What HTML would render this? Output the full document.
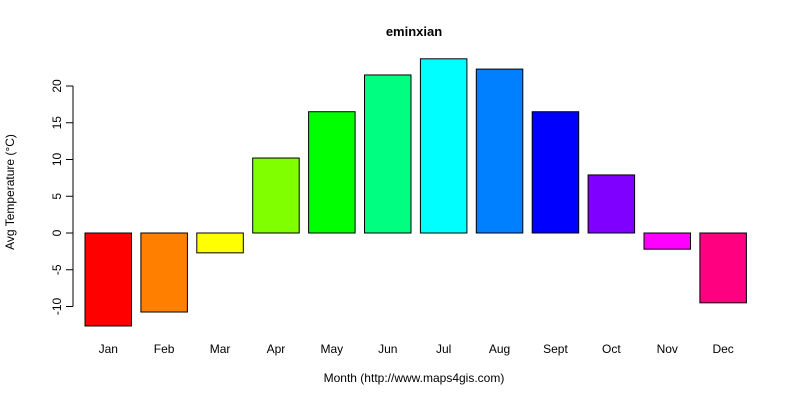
<!DOCTYPE html>
<html><head><meta charset="utf-8"><style>
body{margin:0;background:#fff;}
svg text{font-family:"Liberation Sans",Arial,sans-serif;}
</style></head><body>
<svg id="chart" width="800" height="400" xmlns="http://www.w3.org/2000/svg">
<rect width="800" height="400" fill="#fff"/>
<text x="414" y="36" text-anchor="middle" font-size="13" font-weight="bold">eminxian</text>
<text x="414" y="382" text-anchor="middle" font-size="12">Month (http://www.maps4gis.com)</text>
<text transform="translate(14,192) rotate(-90)" text-anchor="middle" font-size="12">Avg Temperature (°C)</text>
<g id="bars"></g><g id="yaxis"></g><g id="xlabels"></g>
</svg>
<script>
const months=["Jan","Feb","Mar","Apr","May","Jun","Jul","Aug","Sept","Oct","Nov","Dec"];
const temps=[-12.65,-10.75,-2.7,10.2,16.5,21.5,23.7,22.3,16.5,7.9,-2.2,-9.5];
const colors=["#FF0000","#FF8000","#FFFF00","#80FF00","#00FF00","#00FF80","#00FFFF","#0080FF","#0000FF","#8000FF","#FF00FF","#FF0080"];
const yTicks=[-10,-5,0,5,10,15,20];
const NS="http://www.w3.org/2000/svg";
const y=v=>233-v*7.35;
const x0=85,step=55.9,bw=46.5;
const bars=document.getElementById('bars'),xl=document.getElementById('xlabels'),ya=document.getElementById('yaxis');
temps.forEach((t,i)=>{
  const r=document.createElementNS(NS,'rect');
  
  
  const xx=x0+i*step;
  r.setAttribute('x',xx);r.setAttribute('y',Math.min(y(t),y(0)));
  r.setAttribute('width',bw);r.setAttribute('height',Math.abs(y(t)-y(0)));
  r.setAttribute('fill',colors[i]);r.setAttribute('stroke','#000');r.setAttribute('stroke-width','1');
  bars.appendChild(r);
  const tx=document.createElementNS(NS,'text');
  
  
  tx.setAttribute('x',xx+bw/2);tx.setAttribute('y',353);tx.setAttribute('text-anchor','middle');tx.setAttribute('font-size','12');
  tx.textContent=months[i];xl.appendChild(tx);
});
const ax=document.createElementNS(NS,'line');


ax.setAttribute('x1',73);ax.setAttribute('x2',73);ax.setAttribute('y1',y(yTicks[0]));ax.setAttribute('y2',y(yTicks[yTicks.length-1]));ax.setAttribute('stroke','#000');
ya.appendChild(ax);
yTicks.forEach(v=>{
  const l=document.createElementNS(NS,'line');
  
  
  l.setAttribute('x1',66);l.setAttribute('x2',73);l.setAttribute('y1',y(v));l.setAttribute('y2',y(v));l.setAttribute('stroke','#000');
  ya.appendChild(l);
  const t=document.createElementNS(NS,'text');
  
  
  t.setAttribute('transform','translate(61,'+y(v)+') rotate(-90)');t.setAttribute('text-anchor','middle');t.setAttribute('font-size','12');
  t.textContent=v;ya.appendChild(t);
});
</script>
</body></html>
